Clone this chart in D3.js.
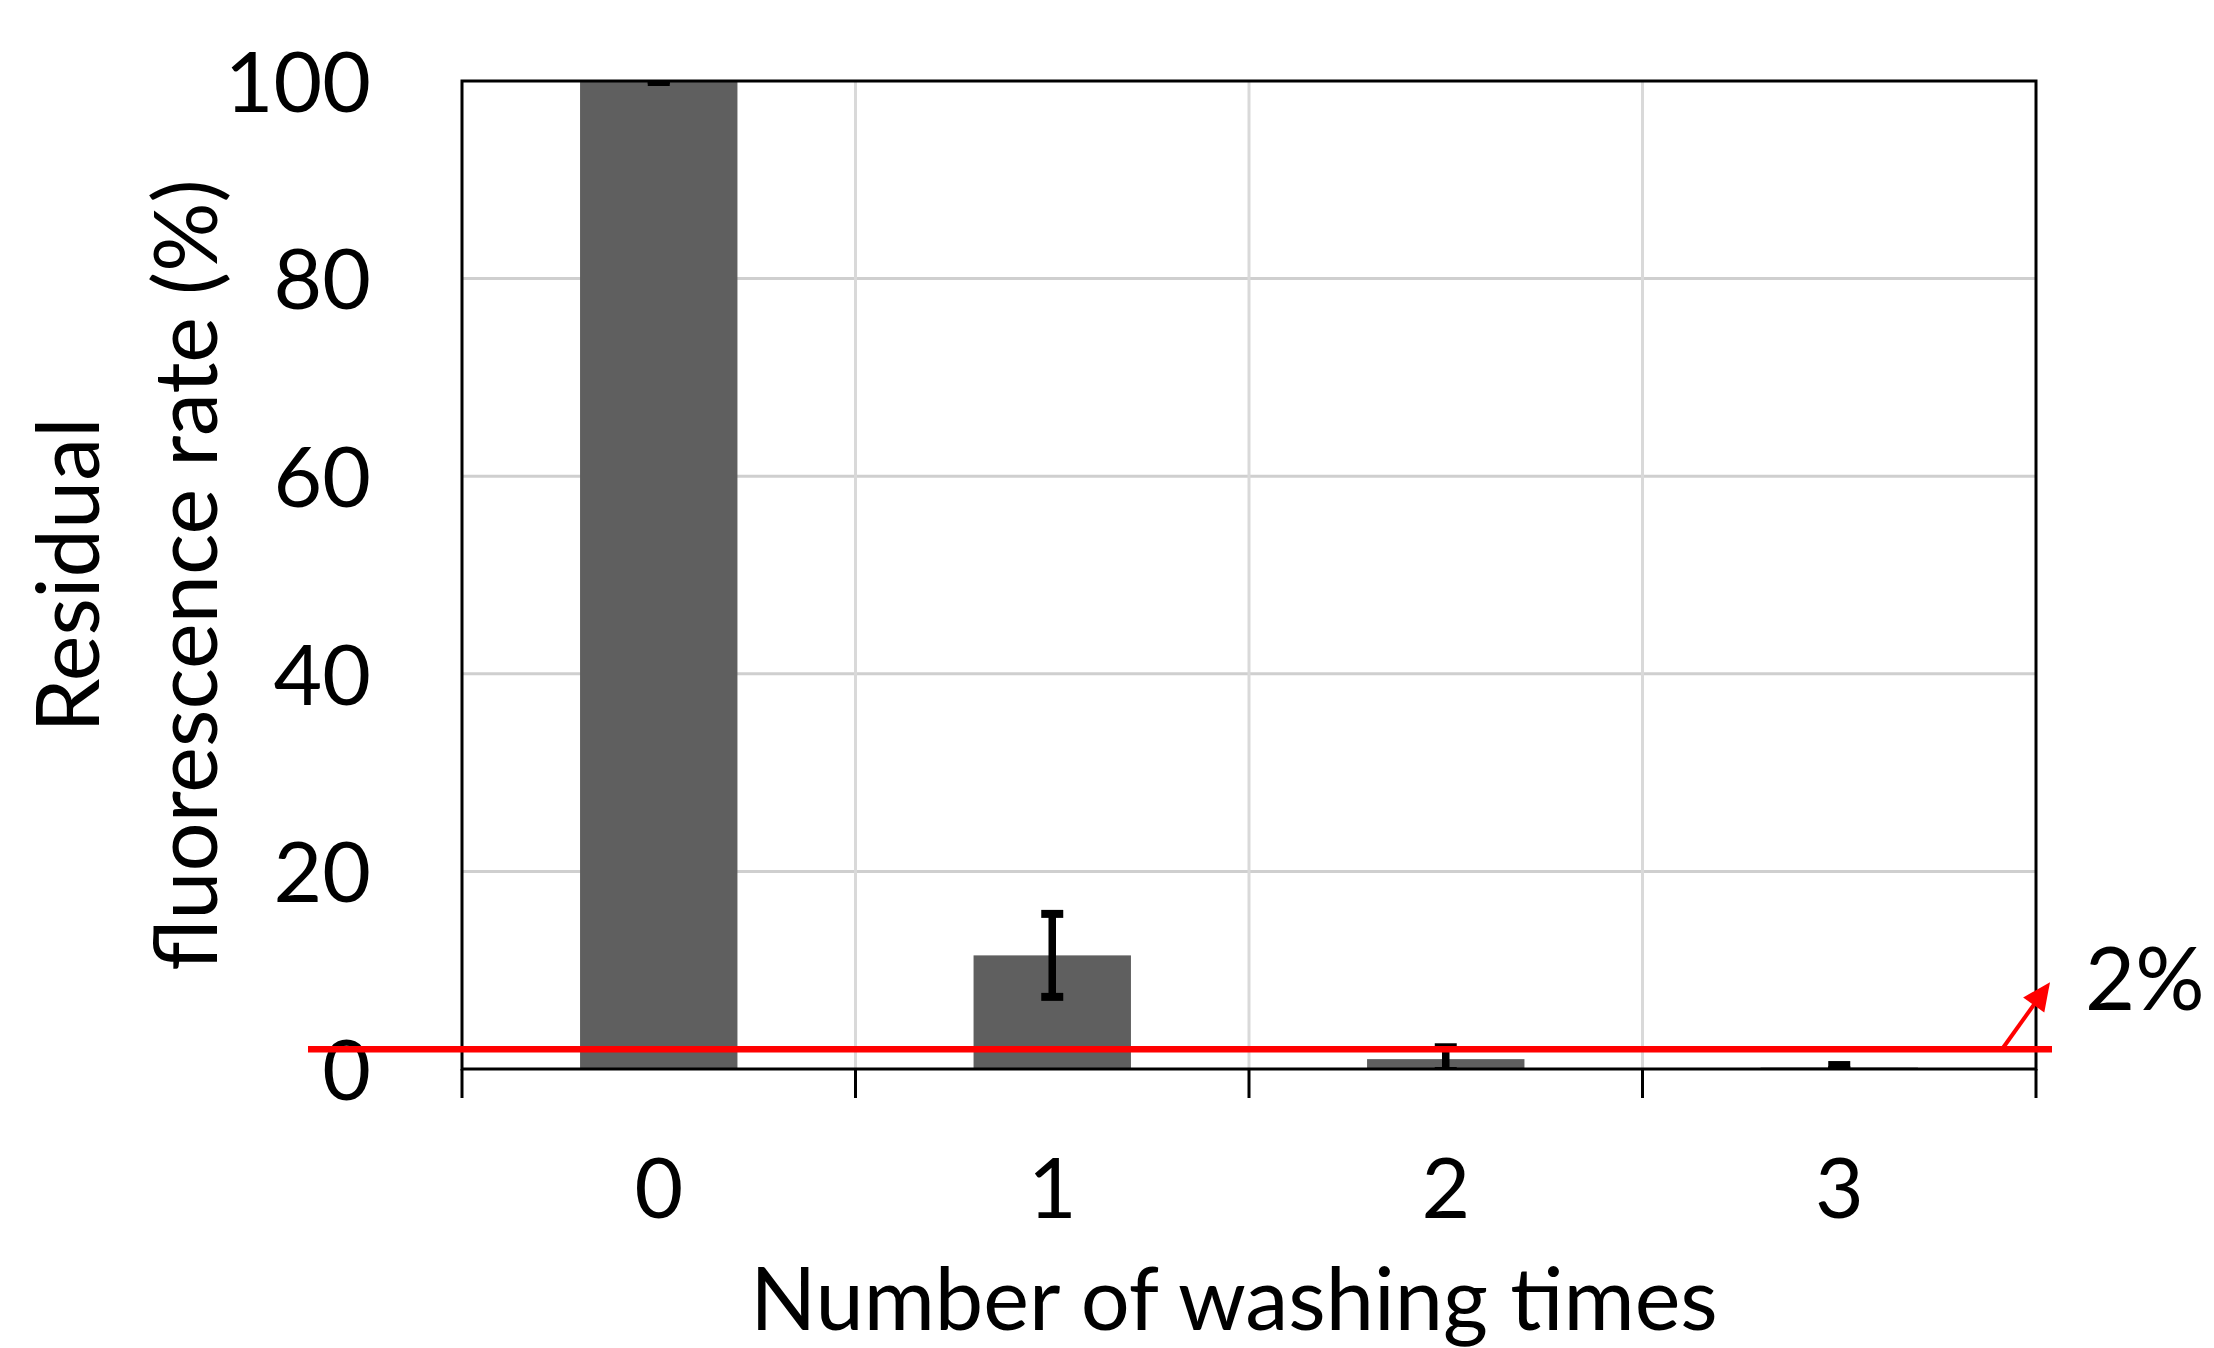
<!DOCTYPE html>
<html><head><meta charset="utf-8">
<script src="https://cdn.jsdelivr.net/npm/d3@7"></script>
<style>html,body{margin:0;padding:0;background:#fff;} svg{display:block;}</style>
</head><body><svg id="chart" width="2214" height="1348"></svg>
<script>
// ---- data ----
const categories = ["0", "1", "2", "3"];
const meanValues = [100, 11.5, 1.0, 0.15];
const errorValues = [0.1, 4.2, 1.2, 0.25];
const yTickValues = [0, 20, 40, 60, 80, 100];
const thresholdValue = 2;
const thresholdLabel = "2%";
const xTitle = "Number of washing times";
const yTitleLines = ["Residual", "fluorescence rate (%)"];

// ---- layout ----
const FONT = "Lato, 'Open Sans', sans-serif";
const FS = 84;
const FST = 86.5;
const plot = {left: 462, right: 2036, top: 81, bottom: 1069};
const svg = d3.select("#chart").style("font-family", FONT);

const x = d3.scaleBand().domain(categories).range([plot.left, plot.right]).padding(0);
const y = d3.scaleLinear().domain([0, 100]).range([plot.bottom, plot.top]);
const barW = x.bandwidth() * 0.4;
const data = categories.map((c, i) => ({c, v: meanValues[i], e: errorValues[i]}));

svg.append("defs").append("clipPath").attr("id", "plotclip")
  .append("rect").attr("x", plot.left).attr("y", plot.top)
  .attr("width", plot.right - plot.left).attr("height", plot.bottom - plot.top);

// gridlines
svg.append("g").selectAll("line").data(yTickValues.filter(t => t > 0 && t < 100)).join("line")
  .attr("x1", plot.left).attr("x2", plot.right)
  .attr("y1", d => y(d)).attr("y2", d => y(d))
  .attr("stroke", "#cfcfcf").attr("stroke-width", 3);
svg.append("g").selectAll("line").data(categories.slice(1)).join("line")
  .attr("x1", d => x(d)).attr("x2", d => x(d))
  .attr("y1", plot.top).attr("y2", plot.bottom)
  .attr("stroke", "#d9d9d9").attr("stroke-width", 3);

// bars
svg.append("g").selectAll("rect").data(data).join("rect")
  .attr("x", d => x(d.c) + (x.bandwidth() - barW) / 2)
  .attr("width", barW)
  .attr("y", d => y(d.v))
  .attr("height", d => y(0) - y(d.v))
  .attr("fill", "#5f5f5f");

// error bars
const eb = svg.append("g").attr("clip-path", "url(#plotclip)").attr("stroke", "#000");
const cx = d => x(d.c) + x.bandwidth() / 2;
eb.selectAll("line.stem").data(data).join("line").attr("class", "stem")
  .attr("x1", cx).attr("x2", cx)
  .attr("y1", d => y(d.v - d.e)).attr("y2", d => y(d.v + d.e))
  .attr("stroke-width", 7.5);
["top", "bot"].forEach(k => {
  eb.selectAll("line.cap" + k).data(data).join("line").attr("class", "cap" + k)
    .attr("x1", d => cx(d) - 11).attr("x2", d => cx(d) + 11)
    .attr("y1", d => y(k === "top" ? d.v + d.e : d.v - d.e))
    .attr("y2", d => y(k === "top" ? d.v + d.e : d.v - d.e))
    .attr("stroke-width", 8);
});

// frame
svg.append("rect").attr("x", plot.left).attr("y", plot.top)
  .attr("width", plot.right - plot.left).attr("height", plot.bottom - plot.top)
  .attr("fill", "none").attr("stroke", "#000").attr("stroke-width", 3);
const bounds = categories.map(c => x(c)).concat([plot.right]);
svg.append("g").selectAll("line").data(bounds).join("line")
  .attr("x1", d => d).attr("x2", d => d)
  .attr("y1", plot.bottom).attr("y2", plot.bottom + 29)
  .attr("stroke", "#000").attr("stroke-width", 3);

// axes labels
const yAxis = svg.append("g").attr("transform", `translate(${plot.left},0)`)
  .call(d3.axisLeft(y).tickValues(yTickValues).tickSize(0).tickPadding(91));
yAxis.select(".domain").remove();
yAxis.selectAll("text").attr("font-size", FS).attr("font-family", FONT).attr("fill", "#000").attr("dy", "0.36em");

const xAxis = svg.append("g").attr("transform", `translate(0,${plot.bottom})`)
  .call(d3.axisBottom(x).tickSize(0).tickPadding(89));
xAxis.select(".domain").remove();
xAxis.selectAll("text").attr("font-size", FS).attr("font-family", FONT).attr("fill", "#000");

// threshold line
svg.append("line")
  .attr("x1", plot.left - 154).attr("x2", plot.right + 16)
  .attr("y1", y(thresholdValue)).attr("y2", y(thresholdValue))
  .attr("stroke", "#ff0000").attr("stroke-width", 6.5);

// arrow
const ax0 = plot.right - 34, ay0 = y(thresholdValue);
const ax1 = plot.right + 14, ay1 = y(thresholdValue) - 67;
const len = Math.hypot(ax1 - ax0, ay1 - ay0);
const ux = (ax1 - ax0) / len, uy = (ay1 - ay0) / len;
const hl = 28, hw = 13;
const bx = ax1 - ux * hl, by = ay1 - uy * hl;
svg.append("line").attr("x1", ax0).attr("y1", ay0).attr("x2", bx + ux * 2).attr("y2", by + uy * 2)
  .attr("stroke", "#ff0000").attr("stroke-width", 4);
svg.append("polygon")
  .attr("points", [[ax1, ay1], [bx - uy * hw, by + ux * hw], [bx + uy * hw, by - ux * hw]].map(p => p.join(",")).join(" "))
  .attr("fill", "#ff0000");

svg.append("text").attr("x", plot.right + 49).attr("y", y(thresholdValue) - 39)
  .attr("font-size", FST).attr("fill", "#000").text(thresholdLabel);

// titles
svg.append("text").attr("x", 1234).attr("y", 1330).attr("text-anchor", "middle")
  .attr("font-size", FST).attr("fill", "#000").text(xTitle);
const yMid = (plot.top + plot.bottom) / 2;
[99, 217].forEach((bx2, i) => {
  svg.append("text").attr("transform", `translate(${bx2},${yMid}) rotate(-90)`)
    .attr("text-anchor", "middle").attr("font-size", FST).attr("fill", "#000")
    .text(yTitleLines[i]);
});
</script></body></html>
